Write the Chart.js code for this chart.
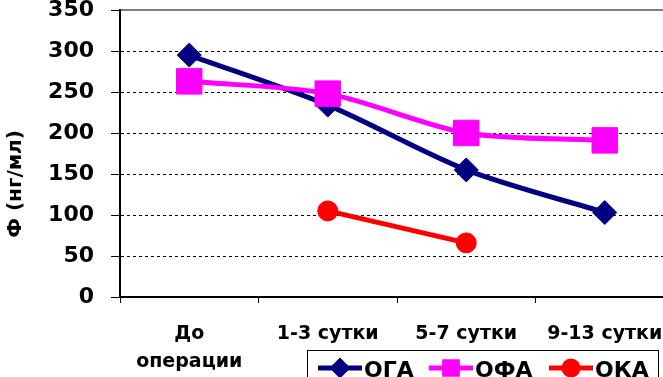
<!DOCTYPE html>
<html>
<head>
<meta charset="utf-8">
<script src="https://cdn.jsdelivr.net/npm/chart.js@4/dist/chart.umd.min.js"></script>
<style>
  html, body { margin: 0; padding: 0; background: #fff; overflow: hidden; }
  #wrap { width: 700px; height: 377px; }
</style>
</head>
<body>
<div id="wrap"><canvas id="chart_phi" width="700" height="377"></canvas></div>
<script>
// data
const categories = [["До", "операции"], "1-3 сутки", "5-7 сутки", "9-13 сутки"];
const ogaValues = [295, 234, 155, 103];
const ofaValues = [263, 248, 200, 191];
const okaValues = [null, 105, 66, null];
const seriesNames = ["ОГА", "ОФА", "ОКА"];
const yTicks = [0, 50, 100, 150, 200, 250, 300, 350];
const yTitle = "Ф (нг/мл)";

const FONT = "'DejaVu Sans', Arial, sans-serif";

// y title + legend box drawn on the canvas
const extrasPlugin = {
  id: "extras",
  afterDraw(chart) {
    const ctx = chart.ctx;
    ctx.save();
    // axis title
    ctx.translate(16, 184);
    ctx.rotate(-Math.PI / 2);
    ctx.font = "bold 20px " + FONT;
    ctx.fillStyle = "#000";
    ctx.textAlign = "center";
    ctx.textBaseline = "middle";
    ctx.fillText(yTitle, 0, 0);
    ctx.restore();

    // legend
    ctx.save();
    ctx.fillStyle = "#fff";
    ctx.fillRect(307, 350, 351, 40);
    ctx.strokeStyle = "#000";
    ctx.lineWidth = 1;
    ctx.strokeRect(307.5, 350.5, 351, 40);
    const starts = [318, 429, 549];
    const markerSize = [7, 9, 7];
    chart.data.datasets.forEach((ds, i) => {
      const x0 = starts[i], y = 368;
      ctx.strokeStyle = ds.borderColor;
      ctx.lineWidth = 5;
      ctx.beginPath();
      ctx.moveTo(x0, y);
      ctx.lineTo(x0 + 44, y);
      ctx.stroke();
      ctx.fillStyle = ds.backgroundColor;
      Chart.helpers.drawPoint(ctx, {
        pointStyle: ds.pointStyle,
        radius: markerSize[i],
        borderWidth: 1,
        rotation: 0
      }, x0 + 22, y);
      ctx.fill();
      ctx.fillStyle = "#000";
      ctx.font = "bold 22px " + FONT;
      ctx.textAlign = "left";
      ctx.textBaseline = "alphabetic";
      ctx.fillText(ds.label, x0 + 46, 377);
    });
    ctx.restore();
  }
};

const ctx = document.getElementById("chart_phi").getContext("2d");
const myChart = new Chart(ctx, {
  type: "line",
  data: {
    labels: categories,
    datasets: [
      {
        label: seriesNames[0],
        data: ogaValues,
        borderColor: "#000080",
        backgroundColor: "#000080",
        borderWidth: 5,
        pointStyle: "rectRot",
        pointRadius: 12,
        pointBorderWidth: 1,
        tension: 0.3,
        order: 3
      },
      {
        label: seriesNames[1],
        data: ofaValues,
        borderColor: "#ff00ff",
        backgroundColor: "#ff00ff",
        borderWidth: 5,
        pointStyle: "rect",
        pointRadius: 18,
        pointBorderWidth: 1,
        tension: 0.3,
        order: 2
      },
      {
        label: seriesNames[2],
        data: okaValues,
        borderColor: "#ff0000",
        backgroundColor: "#ff0000",
        borderWidth: 5,
        pointStyle: "circle",
        pointRadius: 10,
        pointBorderWidth: 1,
        tension: 0.3,
        order: 1
      }
    ]
  },
  options: {
    responsive: false,
    animation: false,
    layout: { autoPadding: false, padding: { top: 10, right: 26, left: 0, bottom: 0 } },
    plugins: {
      legend: { display: false },
      tooltip: { enabled: false }
    },
    scales: {
      x: {
        type: "category",
        offset: true,
        grid: {
          offset: true,
          drawOnChartArea: false,
          tickLength: 6,
          tickColor: "#000",
          tickWidth: 1
        },
        border: { color: "#000", width: 2 },
        ticks: {
          color: "#000",
          padding: 17,
          maxRotation: 0,
          autoSkip: false,
          font: { family: FONT, weight: "bold", size: 19, lineHeight: 1.47 }
        },
        afterFit(s) {
          s.height = 80;
          s.paddingLeft = 0;
          s.paddingRight = 0;
        }
      },
      xTop: {
        type: "category",
        position: "top",
        grid: { display: false, drawTicks: false },
        ticks: { display: false },
        border: { color: "#808080", width: 2 },
        afterFit(s) {
          s.height = 0;
        }
      },
      y: {
        min: 0,
        max: 350,
        afterBuildTicks(s) {
          s.ticks = yTicks.map((v) => ({ value: v }));
        },
        grid: {
          color: (c) => (c.tick && (c.tick.value === 0 || c.tick.value === 350)) ? "rgba(0,0,0,0)" : "#000",
          lineWidth: 1,
          tickColor: "#000",
          tickLength: 9,
          tickWidth: 1
        },
        border: { color: "#000", width: 2, dash: [3, 3] },
        ticks: {
          color: "#000",
          padding: 17,
          font: { family: FONT, weight: "bold", size: 22 }
        },
        afterFit(s) {
          s.width = 120;
          s.paddingTop = 0;
          s.paddingBottom = 0;
        }
      }
    }
  },
  plugins: [extrasPlugin]
});
</script>
</body>
</html>
